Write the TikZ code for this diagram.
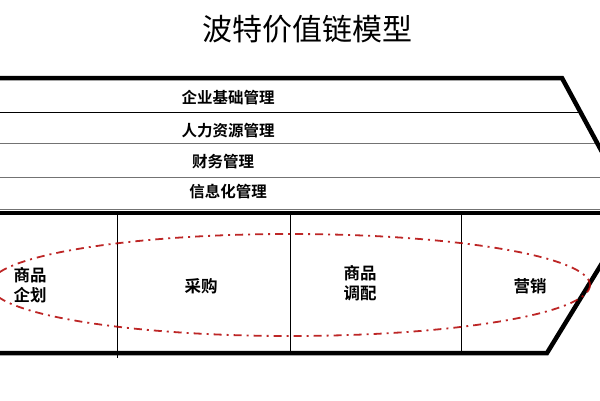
\documentclass[tikz,border=0pt]{standalone}
\usepackage{fontspec}
\newfontfamily\cjk{Noto Sans CJK SC}[BoldFont={* Bold}]
\usetikzlibrary{positioning}

\tikzset{
	rowlabel/.style={font=\cjk\bfseries\fontsize{15.5}{20}\selectfont, inner sep=0pt},
	steplabel/.style={font=\cjk\bfseries\fontsize{16.5}{20}\selectfont, align=center, inner sep=0pt},
	heavyline/.style={line width=4.5pt},
	rowline/.style={line width=1pt, draw=black!55},
	redloop/.style={line width=1.8pt, draw=red!70!black, opacity=0.85, dash pattern=on 8pt off 5pt on 2pt off 5pt}
}

\begin{document}
\begin{tikzpicture}[x=1pt, y=-1pt]
		\useasboundingbox (0,0) rectangle (600,400);
		\clip (0,0) rectangle (600,400);
		
		\node[font=\cjk\fontsize{30}{32}\selectfont] (title) at (307, 29) {波特价值链模型};
		
		% support rows
		\draw[line width=1pt] (0,112) -- (580,112);
		\foreach \y in {143,177,209}
			\draw[rowline] (0,\y) -- (600,\y);
		
		% chevron outline
		\coordinate (tl) at (0,78);
		\coordinate (tr) at (562,78);
		\coordinate (tip) at (634,211);
		\coordinate (br) at (547,353);
		\coordinate (bl) at (0,353);
		\draw[heavyline] (tl) -- (tr) -- (tip) -- (br) -- (bl);
		\draw[heavyline] (0,213) -- (600,213);
		
		% primary activities
		\foreach \x in {117,290,461}
			\draw[line width=0.8pt] (\x,215) -- (\x,352);
		\draw[line width=0.8pt] (117,352) -- (117,358);
		
		\node[rowlabel] (infra) at (228, 98) {企业基础管理};
		\node[rowlabel] (hr) at (228, 131) {人力资源管理};
		\node[rowlabel] (fin) at (223, 162) {财务管理};
		\node[rowlabel] (it) at (228, 192) {信息化管理};
		
		\node[steplabel] (plan) at (30, 285) {商品\\企划};
		\node[steplabel] (buy) at (201, 286) {采购};
		\node[steplabel] (dist) at (360, 283) {商品\\调配};
		\node[steplabel] (sell) at (530, 286) {营销};
		
		\draw[redloop] (290,285) ellipse [x radius=300, y radius=51];
	\end{tikzpicture}
\end{document}
